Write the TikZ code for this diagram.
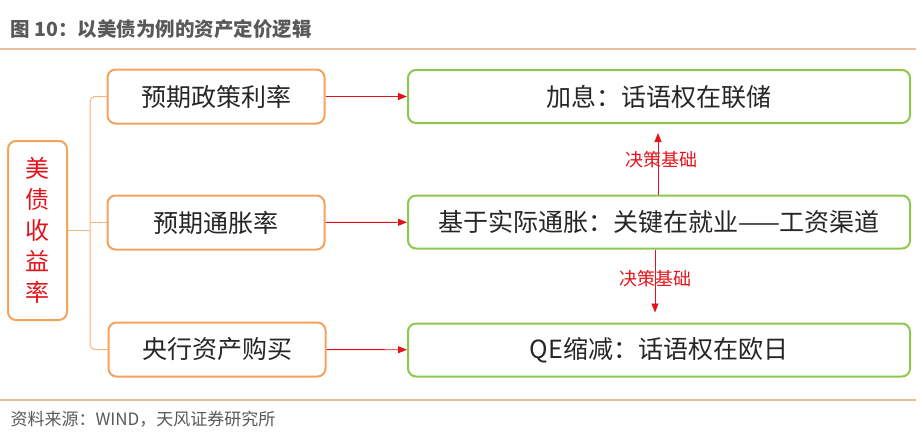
\documentclass[tikz,border=0pt]{standalone}
\usepackage{fontspec}
\setmainfont{Noto Sans CJK SC}
\usepackage{tikz}
\usetikzlibrary{arrows.meta,positioning}
\definecolor{title}{HTML}{595959}
\definecolor{rule}{HTML}{E9BE9B}
\definecolor{orange}{HTML}{F2A35E}
\definecolor{green}{HTML}{8DC74E}
\definecolor{red}{HTML}{E3131B}
\definecolor{ink}{HTML}{262626}
\tikzset{
  obox/.style={draw=orange, line width=2pt, rounded corners=8pt, text=ink,
    font=\fontsize{25}{27}\selectfont, minimum width=217pt, minimum height=54pt, inner sep=0pt},
  gbox/.style={draw=green, line width=2pt, rounded corners=8pt, text=ink,
    font=\fontsize{25}{27}\selectfont, minimum width=502pt, minimum height=53pt, inner sep=0pt},
  bracket/.style={draw=orange!80, line width=1pt},
  link/.style={draw=red, line width=0.9pt, -{Triangle[length=9pt,width=7pt]}},
  note/.style={text=red, font=\fontsize{18}{20}\selectfont},
  rulebar/.style={draw=rule, line width=1.5pt}
}
\begin{document}
\begin{tikzpicture}[x=1pt, y=-1pt]
  \useasboundingbox (0,0) rectangle (920,440);

  % caption and source
  \node[anchor=west, text=title, font=\bfseries\fontsize{19.5}{21}\selectfont] (cap) at (7,29) {图 10：以美债为例的资产定价逻辑};
  \draw[rulebar] (0,49) -- (916,49);
  \draw[rulebar] (0,400) -- (916,400);
  \node[anchor=west, text=title, font=\fontsize{17}{19}\selectfont] (src) at (7,419) {资料来源：WIND，天风证券研究所};

  % left column
  \node[obox, minimum width=59pt, minimum height=179pt, text=red, align=center,
    font=\fontsize{24}{31}\selectfont] (yield) at (37.5,230.5) {美\\债\\收\\益\\率};

  \node[obox] (rate) at (216,96.5) {预期政策利率};
  \node[obox] (infl) at (216,222.5) {预期通胀率};
  \node[obox] (buy) at (217,349.5) {央行资产购买};

  \node[gbox] (hike) at (659,96.5) {加息：话语权在联储};
  \node[gbox] (wage) at (659,222) {基于实际通胀：关键在就业——工资渠道};
  \node[gbox] (taper) at (659,350) {QE缩减：话语权在欧日};

  % bracket
  \coordinate (spine) at (90,0);
  \draw[bracket, rounded corners=5pt] (rate.west) -- (rate.west -| spine) -- (buy.west -| spine) -- (buy.west);
  \draw[bracket] (infl.west) -- (infl.west -| spine);
  \draw[bracket] (yield.east) -- (yield.east -| spine);

  % links
  \draw[link] (rate) -- (hike);
  \draw[link] (infl) -- (wage);
  \draw[link] (buy) -- (taper);

  \draw[link, shorten >=9pt] ([xshift=-1pt]wage.north) -- ([xshift=-1pt]hike.south)
    node[note, midway, xshift=3pt] (up) {决策基础};
  \draw[link, shorten >=10pt] ([xshift=-4pt]wage.south) -- ([xshift=-4pt]taper.north)
    node[note, pos=0.4] (down) {决策基础};
\end{tikzpicture}
\end{document}
